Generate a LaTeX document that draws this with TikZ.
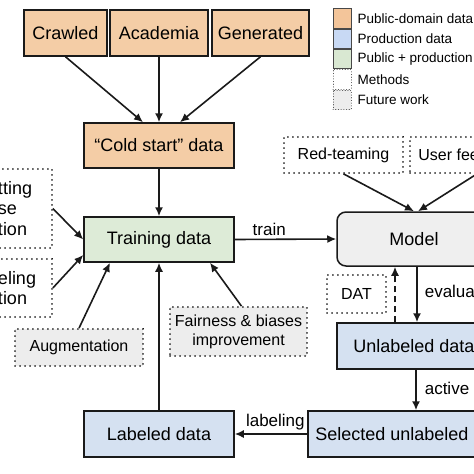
\documentclass[tikz,border=0pt]{standalone}
\usepackage{fontspec}
\setmainfont{Liberation Sans}
\usepackage{tikz}
\usetikzlibrary{positioning,arrows.meta}
\definecolor{pubfill}{HTML}{F4CDA6}
\definecolor{prodfill}{HTML}{D5E1F1}
\definecolor{mixfill}{HTML}{DDEBD7}
\definecolor{modelfill}{HTML}{EFEFEF}
\definecolor{futfill}{HTML}{EDEDED}
\definecolor{pubkey}{HTML}{F3C59A}
\definecolor{prodkey}{HTML}{C8D9F4}
\definecolor{mixkey}{HTML}{D9E8D2}
\definecolor{edgeink}{HTML}{1A1A1A}
\begin{document}
\begin{tikzpicture}[x=1pt,y=-1pt,
  databox/.style={draw=edgeink,line width=1.5pt,font=\fontsize{18}{21}\selectfont,inner sep=0pt,align=center},
  methbox/.style={draw=edgeink,line width=1.7pt,dash pattern=on 0.1pt off 4.9pt,line cap=round,font=\fontsize{16}{19}\selectfont,inner sep=0pt,align=center},
  cutbox/.style={methbox,font=\fontsize{18}{20.5}\selectfont,align=left,inner xsep=8pt,text width=46pt},
  flow/.style={draw=edgeink,line width=1.6pt,-{Latex[length=9pt,width=8pt]}},
  elabel/.style={font=\fontsize{17}{20}\selectfont,inner sep=3pt},
  keybox/.style={draw=edgeink!80,line width=0.7pt,minimum width=18pt,minimum height=19.5pt,inner sep=0pt},
  keydots/.style={keybox,dash pattern=on 0.1pt off 2.6pt,line cap=round,line width=1pt},
  keytext/.style={font=\fontsize{13.5}{16}\selectfont,inner sep=0pt}]
\useasboundingbox (0,0) rectangle (474,474);
\clip (0,0) rectangle (474,474);
\fill[white] (0,0) rectangle (474,474);
\node[databox,fill=pubfill,minimum width=83pt,minimum height=46pt] (crawled) at (65.5,33) {Crawled};
\node[databox,fill=pubfill,minimum width=98pt,minimum height=46pt] (academia) at (159,33) {Academia};
\node[databox,fill=pubfill,minimum width=97pt,minimum height=46pt] (generated) at (260.5,33) {Generated};
\node[databox,fill=pubfill,minimum width=150pt,minimum height=45pt] (cold) at (159,145.5) {\textquotedblleft Cold start\textquotedblright\ data};
\node[databox,fill=mixfill,minimum width=150pt,minimum height=45pt] (train) at (159,239.5) {Training data};
\node[databox,fill=prodfill,minimum width=150pt,minimum height=46pt] (labeled) at (159,434) {Labeled data};
\node[databox,fill=modelfill,rounded corners=9pt,minimum width=154pt,minimum height=54pt] (model) at (414,239) {Model};
\node[databox,fill=prodfill,minimum width=154pt,minimum height=46pt] (unl) at (414,346) {Unlabeled data};
\node[databox,fill=prodfill,minimum width=208pt,minimum height=46pt] (sel) at (412,434) {Selected unlabeled data};
\node[methbox,minimum width=119pt,minimum height=36pt] (redteam) at (343.5,155) {Red-teaming};
\node[methbox,minimum width=120pt,minimum height=36pt] (userfb) at (470,155) {User feedback};
\node[methbox,fill=white,minimum width=59pt,minimum height=38pt] (dat) at (356.5,294) {DAT};
\node[methbox,fill=futfill,minimum width=128pt,minimum height=37pt] (augment) at (79,347.5) {Augmentation};
\node[methbox,fill=futfill,minimum width=137pt,minimum height=49pt] (fairness) at (238.5,331.5) {Fairness \& biases\\improvement};
\node[cutbox,minimum width=62pt,minimum height=79pt] (cutone) at (21,208.5) {tting\\se\\tion};
\node[cutbox,minimum width=62pt,minimum height=58pt] (cuttwo) at (21,288) {eling\\tion};
\draw[flow] (crawled.south) -- ([xshift=-16pt]cold.north);
\draw[flow] (academia.south) -- (cold.north);
\draw[flow] (generated.south) -- ([xshift=21pt]cold.north);
\draw[flow] (cold.south) -- (train.north);
\draw[flow] (cutone.east) -- (train.west);
\draw[flow] (cuttwo.east) -- ([yshift=-15.5pt]train.west);
\draw[flow] (augment.north) -- ([xshift=-49pt]train.south);
\draw[flow] ([xshift=3pt]fairness.north) -- ([xshift=51pt]train.south);
\draw[flow] (labeled.north) -- (train.south);
\draw[flow] (train.east) -- node[elabel,above,pos=0.34] {train} (model.west);
\draw[flow] (redteam.south) -- (model.north);
\draw[flow] ([xshift=7pt]userfb.south) -- ([xshift=4pt]model.north);
\draw[flow] ([xshift=3pt]model.south) -- node[elabel,right,pos=0.45,xshift=4pt] {evaluation} ([xshift=3pt]unl.north);
\draw[flow,dash pattern=on 6pt off 4pt] ([xshift=-19pt]unl.north) -- ([xshift=-19pt]model.south);
\draw[flow] ([xshift=2pt]unl.south) -- node[elabel,right,pos=0.5,xshift=5pt] {active learning} ([xshift=2pt]unl.south |- sel.north);
\draw[flow] (sel.west) -- node[elabel,above,pos=0.44] {labeling} (labeled.east);
\node[keybox,fill=pubkey] (kpub) at (342,18.5) {};
\node[keybox,fill=prodkey,below=0pt of kpub] (kprod) {};
\node[keybox,fill=mixkey,below=0pt of kprod] (kmix) {};
\node[keydots,fill=white,below=0pt of kmix] (kmeth) {};
\node[keydots,fill=futfill,below=0pt of kmeth] (kfut) {};
\node[keytext,right=6pt of kpub] {Public-domain data};
\node[keytext,right=6pt of kprod] {Production data};
\node[keytext,right=6pt of kmix] {Public + production data};
\node[keytext,right=6pt of kmeth] {Methods};
\node[keytext,right=6pt of kfut] {Future work};
\end{tikzpicture}
\end{document}
